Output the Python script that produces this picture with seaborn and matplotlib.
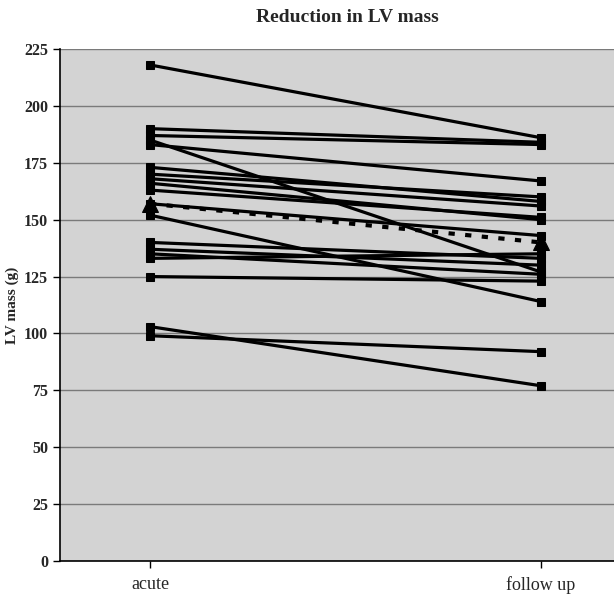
import seaborn as sns
import pandas as pd
import matplotlib.pyplot as plt

# LV mass (g) per patient, acute vs follow up
acute = [218, 190, 187, 185, 183, 173, 170, 168, 166, 163, 157, 152, 140, 137, 135, 133, 125, 103, 99]
follow_up = [186, 184, 183, 127, 167, 158, 160, 156, 150, 151, 143, 114, 133, 130, 126, 135, 123, 77, 92]
mean_vals = [157, 140]
timepoints = ["acute", "follow up"]

rows = []
for i, (a, f) in enumerate(zip(acute, follow_up)):
    rows.append({"patient": i, "pos": 0, "mass": a})
    rows.append({"patient": i, "pos": 1, "mass": f})
df = pd.DataFrame(rows)
mean_df = pd.DataFrame({"pos": [0, 1], "mass": mean_vals})

sns.set_style("white")
plt.rcParams["font.family"] = ["Liberation Serif", "DejaVu Serif"]

fig = plt.figure(figsize=(6.14, 5.94), dpi=100)
ax = fig.add_axes([60 / 614, 33 / 594, 554 / 614, 512 / 594])
ax.set_facecolor("#d3d3d3")

sns.lineplot(data=df, x="pos", y="mass", units="patient", estimator=None,
             color="black", lw=2.3, marker="s", markersize=6,
             markeredgecolor="black", ax=ax, legend=False)
sns.lineplot(data=mean_df, x="pos", y="mass", color="black", lw=3,
             linestyle=(0, (1.5, 2.5)), marker="^", markersize=11,
             markeredgecolor="black", ax=ax, legend=False)

ax.set_xlim(-0.2302, 1.1867)
ax.set_ylim(0, 225)
ax.set_yticks(range(0, 226, 25))
ax.set_xticks([0, 1])
ax.set_xticklabels(timepoints, fontsize=13)
for t in ax.get_yticklabels():
    t.set_fontweight("bold")
    t.set_fontsize(11.5)
ax.yaxis.grid(True, color="#7a7a7a", lw=1)
ax.set_axisbelow(True)
ax.tick_params(axis="y", direction="out", length=5, width=1, left=True, color="black")
ax.tick_params(axis="x", direction="out", length=5, width=1, bottom=True, color="black", pad=6)

for side in ["top", "right"]:
    ax.spines[side].set_visible(False)
for side in ["left", "bottom"]:
    ax.spines[side].set_color("black")
    ax.spines[side].set_linewidth(1.2)

ax.set_xlabel("")
ax.set_ylabel("LV mass (g)", fontsize=11, fontweight="bold", labelpad=4)
fig.text(0.566, 0.97, "Reduction in LV mass", ha="center", va="center",
         fontsize=14, fontweight="bold")

fig.savefig("out.png", dpi=100)
